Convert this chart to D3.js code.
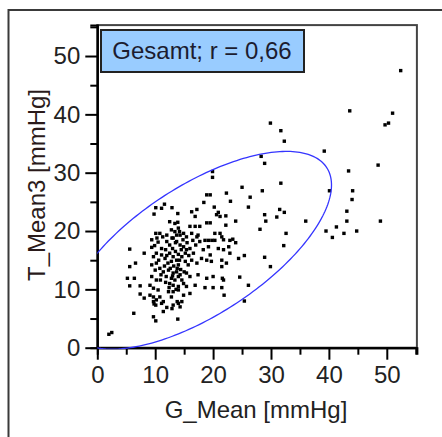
<!DOCTYPE html>
<html>
<head>
<meta charset="utf-8">
<script src="https://cdn.jsdelivr.net/npm/d3@7"></script>
<style>
  body { margin: 0; background: #fff; }
  svg { display: block; }
  text { font-family: "Liberation Sans", Arial, sans-serif; }
</style>
</head>
<body>
<script>
// G_Mean / T_Mean3 pairs [mmHg]
let points = [
  [52.4,47.5],[43.6,40.6],[51.0,40.2],[49.7,38.2],[50.3,38.5],[29.9,38.5],[31.7,37.2],[32.3,35.4],
  [39.2,33.7],[28.3,32.8],[28.9,31.6],[48.5,31.3],[43.4,30.3],[19.9,30.2],[19.9,29.2],[31.7,28.2],
  [40.1,26.9],[44.1,26.9],[44.0,25.4],[28.5,26.9],[25.0,27.5],[22.3,26.5],[18.9,26.2],[19.5,26.2],
  [26.4,25.8],[23.0,25.1],[18.4,24.9],[26.1,24.1],[20.2,24.1],[31.5,23.7],[43.1,23.4],[32.3,23.2],
  [20.9,23.2],[28.9,22.8],[31.0,22.4],[29.1,21.7],[36.0,21.7],[43.1,21.7],[48.9,21.7],[23.9,21.7],
  [22.2,21.0],[28.1,20.3],[32.6,19.6],[39.5,20.0],[41.3,20.7],[40.6,18.9],[42.6,19.6],[44.8,20.0],
  [32.2,17.5],[23.9,18.0],[23.4,18.6],[25.4,15.8],[24.4,15.3],[28.9,15.5],[29.9,13.9],[24.6,12.1],
  [26.1,10.7],[25.4,8.0],[21.9,9.0],[21.6,11.9],[21.5,10.3],[20.0,10.3],[22.9,18.4],[22.7,17.3],
  [22.9,16.2],[2.0,2.3],[2.5,2.6],[6.3,5.9],[5.6,16.9],[6.6,14.5],[5.6,13.9],[5.2,11.9],
  [6.4,11.9],[5.6,10.6],[7.4,10.6],[7.4,9.2],[8.1,8.5],[8.1,16.2],[9.7,5.3],[10.1,4.6],
  [13.9,4.9],[9.8,7.5],[10.1,7.3],[14.3,7.0],[12.9,6.7],[11.4,6.2],[9.8,22.9],[10.1,24.0],
  [11.1,23.9],[11.6,24.6],[12.9,24.0],[13.9,23.0],
  [16.3,23.3],[17.2,23.7],[16.9,22.5],[20.6,22.8],[21.2,22.5],[22.2,22.6],[18.9,21.4],[19.5,21.4],
  [12.5,21.6],[13.4,21.3],[16.0,20.8],[16.9,20.8],[17.7,20.8],[14.2,19.9],[14.3,19.3],[14.9,19.6],
  [10.1,19.6],[10.8,19.6],[11.3,19.0],[12.0,19.3],[12.8,20.2],[13.4,19.9],[13.7,19.3],[15.4,19.0],
  [16.3,19.6],[17.2,19.0],[17.4,19.3],[20.3,19.6],[21.2,19.6],[21.5,19.0],[21.8,18.5],[17.7,18.2],
  [18.6,18.4],[19.2,18.4],[19.8,18.4],[20.3,18.4],[9.4,18.5],[10.3,18.8],[9.4,17.2],[9.9,17.5],
  [10.5,18.1],[11.1,17.0],[12.0,18.2],[12.5,17.6],[13.1,18.8],[13.7,18.2],[14.3,17.6],[14.9,17.3],
  [15.4,16.8],[16.0,17.0],[16.6,16.2],[18.3,16.8],[19.2,17.3],[19.5,15.9],[20.9,17.0],[21.8,16.8],
  [10.2,16.2],[11.1,15.9],[11.7,15.3],[9.7,15.6],[12.5,16.2],[13.1,15.6],[13.7,15.0],[12.8,14.8],
  [14.0,14.2],[14.6,15.6],[15.2,14.8],[15.7,14.2],[16.3,15.0],[17.2,14.5],[18.0,15.3],[18.9,15.0],
  [19.7,14.8],[21.5,15.0],[21.5,13.9],[22.3,14.5],[9.4,14.2],[10.2,14.5],[10.8,13.6],[10.0,13.3],
  [11.4,13.0],[12.3,13.3],[13.1,12.8],[13.7,13.0],[14.3,12.5],[11.9,12.2],[12.8,11.9],[13.4,11.6],
  [14.0,12.2],[14.6,11.6],[15.4,12.8],[16.0,12.2],[17.4,12.5],[18.9,11.9],[20.0,12.2],[21.8,11.6],
  [9.4,12.2],[10.2,11.6],[10.9,11.6],[12.5,11.0],[13.1,10.7],[14.0,10.5],[14.9,11.0],[15.4,10.5],
  [16.9,10.7],[18.6,10.3],[9.1,10.7],[9.7,10.2],[10.5,9.9],[12.3,9.6],[13.1,9.6],[14.0,9.9],
  [9.1,9.0],[9.7,8.7],[10.2,8.2],[10.8,8.7],[11.4,7.9],[12.8,8.7],[13.8,7.9],[14.9,9.0],
  [16.0,9.3],[9.7,7.9],[11.1,7.6],[12.0,6.9],[13.1,7.3],[14.0,7.6],[14.6,7.9],
  [13.0,17.0],[13.5,16.5],[14.0,16.0],[14.5,16.8],[13.2,14.0],[13.8,13.6],[14.4,13.4],[12.2,14.5],
  [12.0,15.8],[15.0,13.0],[13.5,18.0],[14.8,18.5],[12.6,13.6],[11.6,14.0],[15.8,15.8],[14.2,15.0],
  [13.0,12.3],[15.2,16.2],[11.8,16.8],[12.9,18.8],[14.0,20.5],[13.9,21.5],[15.5,18.0],[16.5,18.4],
  [17.0,17.6],[11.0,12.5],[10.6,15.0],[12.4,10.3],[13.6,10.0],[11.8,11.2]
];

// data ellipse: centre, spread along x and y, correlation
let ellipseCenter = [17.6, 16.7];
let ellipseSpread = [22.85, 16.95];
let ellipseR = 0.66;

let majorTicks = [0, 10, 20, 30, 40, 50];
let minorTicks = [5, 15, 25, 35, 45, 55];
let xTitle = "G_Mean [mmHg]";
let yTitle = "T_Mean3 [mmHg]";
let legendText = "Gesamt; r = 0,66";

let width = 442, height = 437;

let svg = d3.select("body").append("svg")
    .attr("width", width)
    .attr("height", height)

let x = d3.scaleLinear().domain([0, 55.2]).range([97.3, 416.9]);
let y = d3.scaleLinear().domain([0, 55.3]).range([347.7, 25.1]);

// outer frame (only top and left edges are in view)
svg.append("path")
    .attr("d", "M8.5,437V10H442")
    .attr("fill", "none")
    .attr("stroke", "#3a3a3a")
    .attr("stroke-width", 2)

// plot box
svg.append("rect")
    .attr("x", x(0))
    .attr("y", y(55.3))
    .attr("width", x(55.2) - x(0))
    .attr("height", y(0) - y(55.3))
    .attr("fill", "none")
    .attr("stroke", "#444")
    .attr("stroke-width", 2)

svg.append("clipPath").attr("id", "plot")
  .append("rect")
    .attr("x", x(0))
    .attr("y", y(55.3))
    .attr("width", x(55.2) - x(0))
    .attr("height", y(0) - y(55.3) + 1.5)

// ellipse
let ts = d3.range(0, 2 * Math.PI, Math.PI / 120);
let ellipse = ts.map(t => [
    ellipseCenter[0] + ellipseSpread[0] * Math.cos(t),
    ellipseCenter[1] + ellipseSpread[1] * (ellipseR * Math.cos(t) + Math.sqrt(1 - ellipseR * ellipseR) * Math.sin(t))
]);

// points
svg.append("g")
    .selectAll("rect")
    .data(points)
    .enter()
    .append("rect")
    .attr("x", d => x(d[0]) - 1.7)
    .attr("y", d => y(d[1]) - 1.7)
    .attr("width", 3.4)
    .attr("height", 3.4)
    .attr("fill", "#000")

// axes
function styleAxis(g) {
    g.select(".domain").attr("stroke", "#000").attr("stroke-width", 2);
    g.selectAll(".tick line").attr("stroke", "#000").attr("stroke-width", 2);
    g.selectAll(".tick text").attr("fill", "#222").style("font-size", "24px")
        .style("font-family", "'Liberation Sans', Arial, sans-serif");
}

svg.append("g")
    .attr("transform", "translate(0," + y(0) + ")")
    .call(d3.axisBottom(x).tickValues(minorTicks).tickSize(7).tickFormat(""))
    .call(styleAxis)
svg.append("g")
    .attr("transform", "translate(0," + y(0) + ")")
    .call(d3.axisBottom(x).tickValues(majorTicks).tickSize(12).tickPadding(6).tickSizeOuter(0))
    .call(styleAxis)

svg.append("g")
    .attr("transform", "translate(" + x(0) + ",0)")
    .call(d3.axisLeft(y).tickValues(minorTicks).tickSize(7).tickFormat(""))
    .call(styleAxis)
svg.append("g")
    .attr("transform", "translate(" + x(0) + ",0)")
    .call(d3.axisLeft(y).tickValues(majorTicks).tickSize(12).tickPadding(5).tickSizeOuter(0))
    .call(styleAxis)

// ellipse drawn over the axis line, as in the original
svg.append("path")
    .datum(ellipse)
    .attr("clip-path", "url(#plot)")
    .attr("fill", "none")
    .attr("stroke", "#3535ff")
    .attr("stroke-width", 1.3)
    .attr("d", d3.line().x(d => x(d[0])).y(d => y(d[1])).curve(d3.curveLinearClosed))

// axis titles
svg.append("text")
    .attr("x", 256)
    .attr("y", 418)
    .attr("text-anchor", "middle")
    .attr("fill", "#222")
    .style("font-size", "24px")
    .text(xTitle)

svg.append("text")
    .attr("transform", "translate(45,185) rotate(-90)")
    .attr("text-anchor", "middle")
    .attr("fill", "#2a1a1a")
    .style("font-size", "24px")
    .text(yTitle)

// legend
svg.append("rect")
    .attr("x", 101)
    .attr("y", 30)
    .attr("width", 203)
    .attr("height", 42)
    .attr("fill", "#99ccff")
    .attr("stroke", "#222")
    .attr("stroke-width", 2)

svg.append("text")
    .attr("x", 202)
    .attr("y", 58.5)
    .attr("text-anchor", "middle")
    .attr("fill", "#1c1c30")
    .style("font-size", "24px")
    .text(legendText)
</script>
</body>
</html>
